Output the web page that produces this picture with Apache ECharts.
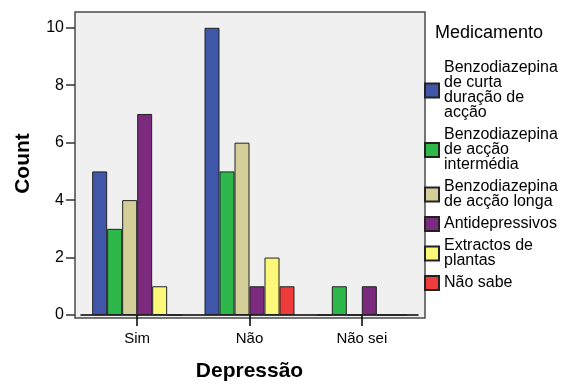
<!DOCTYPE html>
<html>
<head>
<meta charset="utf-8">
<script src="https://cdn.jsdelivr.net/npm/echarts@6/dist/echarts.min.js"></script>
<style>html,body{margin:0;padding:0;background:#fff;}#c{width:564px;height:387px;}</style>
</head>
<body>
<div id="c"></div>
<script>
const categories = ['Sim', 'Não', 'Não sei'];
const seriesNames = [
  'Benzodiazepina de curta duração de acção',
  'Benzodiazepina de acção intermédia',
  'Benzodiazepina de acção longa',
  'Antidepressivos',
  'Extractos de plantas',
  'Não sabe'
];
const legendLabels = [
  'Benzodiazepina\nde curta\nduração de\nacção',
  'Benzodiazepina\nde acção\nintermédia',
  'Benzodiazepina\nde acção longa',
  'Antidepressivos',
  'Extractos de\nplantas',
  'Não sabe'
];
const curta = [5, 10, 0];
const intermedia = [3, 5, 1];
const longa = [4, 6, 0];
const antidepressivos = [7, 1, 1];
const extractos = [1, 2, 0];
const naoSabe = [0, 1, 0];
const yTicks = [0, 2, 4, 6, 8, 10];
const colors = ['#3f56a9', '#2eb84b', '#d4cf98', '#7b2a7e', '#fbf87a', '#ef3b3c'];

const values = [curta, intermedia, longa, antidepressivos, extractos, naoSabe];
const FONT = '"Liberation Sans", Arial, sans-serif';

const chart = echarts.init(document.getElementById('c'), null, {renderer: 'canvas'});
chart.setOption({
  backgroundColor: '#ffffff',
  animation: false,
  textStyle: {fontFamily: FONT},
  title: {
    text: 'Medicamento',
    left: 435, top: 24, padding: 0,
    textStyle: {fontFamily: FONT, fontSize: 18, fontWeight: 'normal', color: '#000'}
  },
  graphic: [{
    type: 'rect', z: -10, silent: true,
    shape: {x: 75, y: 12, width: 350, height: 306},
    style: {fill: '#f0f0f0', stroke: '#4a4a4a', lineWidth: 1.5}
  }],
  legend: {
    orient: 'vertical', left: 424, top: 60, padding: 0,
    icon: 'rect',
    itemWidth: 14, itemHeight: 14, itemGap: 6,
    data: seriesNames,
    formatter: function (name) { return legendLabels[seriesNames.indexOf(name)]; },
    textStyle: {fontFamily: FONT, fontSize: 16, lineHeight: 15, color: '#000'}
  },
  grid: {left: 81, right: 146, top: 12, bottom: 69, containLabel: false},
  xAxis: {
    type: 'category', data: categories,
    name: 'Depressão', nameLocation: 'middle', nameGap: 46,
    nameTextStyle: {fontFamily: FONT, fontSize: 21, fontWeight: 'bold', color: '#000'},
    axisLine: {show: true, lineStyle: {color: '#000', width: 1.5}},
    axisTick: {show: true, alignWithLabel: true, length: 11, lineStyle: {color: '#000', width: 1.5}},
    axisLabel: {fontFamily: FONT, fontSize: 15, color: '#000', margin: 16},
    splitLine: {show: false}
  },
  yAxis: {
    type: 'value', min: 0, max: 10.55, interval: 2, offset: 6,
    name: 'Count', nameLocation: 'middle', nameGap: 41, nameRotate: 90,
    nameTextStyle: {fontFamily: FONT, fontSize: 21, fontWeight: 'bold', color: '#000'},
    axisLine: {show: false},
    axisTick: {show: true, length: 9, customValues: yTicks, lineStyle: {color: '#333', width: 1.5}},
    axisLabel: {fontFamily: FONT, fontSize: 16, color: '#000', margin: 11, customValues: yTicks},
    splitLine: {show: false}
  },
  series: seriesNames.map((n, i) => ({
    type: 'bar', name: n, data: values[i],
    barWidth: 15, barGap: '0%',
    itemStyle: {color: colors[i], borderColor: '#222', borderWidth: 1}
  }))
});
</script>
</body>
</html>
